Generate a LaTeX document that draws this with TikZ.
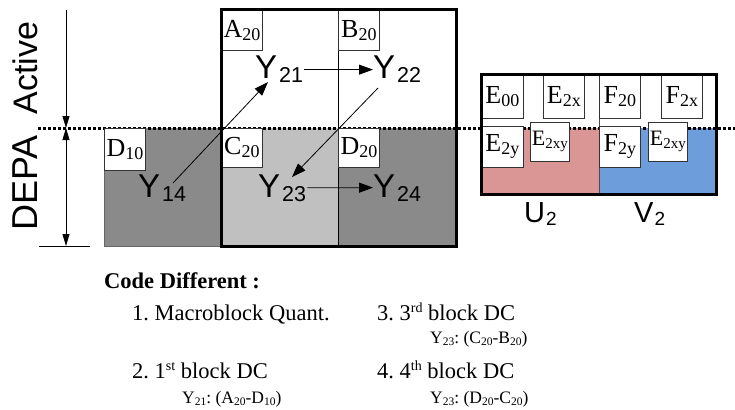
\documentclass[tikz,border=0pt]{standalone}
\usepackage{fontspec}
\setmainfont{Liberation Serif}
\newfontfamily\arialf{Liberation Sans}
\usetikzlibrary{arrows.meta}
\frenchspacing
\definecolor{dkgray}{HTML}{8A8A8A}
\definecolor{ltgray}{HTML}{C0C0C0}
\definecolor{upink}{HTML}{D99694}
\definecolor{vblue}{HTML}{6E9DDB}
\newcommand{\fsz}[1]{\fontsize{#1}{#1}\selectfont}
\newcommand{\bigY}[1]{{\arialf\fsz{33}Y\kern2pt\raisebox{-4pt}{\fsz{21.5}#1}}}
\newcommand{\labt}[2]{{\fsz{26}#1\raisebox{-3pt}{\fsz{18}#2}}}
\newcommand{\labsm}[2]{{\fsz{22}#1\raisebox{-3pt}{\fsz{15}#2}}}
\newcommand{\smy}[2]{#1\raisebox{-2pt}{\fsz{11.5}#2}}
\newcommand{\supx}[1]{\raisebox{8pt}{\fsz{14}#1}}
\tikzset{
  lbox/.style={draw=black!80, line width=0.8pt, fill=white, inner sep=0pt, anchor=north west},
  ytxt/.style={inner sep=0pt, anchor=base west},
  yarr/.style={-{Triangle[length=14pt,width=10pt]}, line width=0.8pt},
  darr/.style={-{Triangle[length=12pt,width=7pt]}, line width=0.8pt},
  ddarr/.style={{Triangle[length=12pt,width=7pt]}-{Triangle[length=12pt,width=7pt]}, line width=0.8pt},
  btxt/.style={inner sep=0pt, anchor=base west, font=\fsz{22.5}},
  stxt/.style={inner sep=0pt, anchor=base west, font=\fsz{17.5}},
  dotline/.style={line width=3pt, dash pattern=on 3pt off 2pt}
}
\begin{document}
\begin{tikzpicture}[x=1pt,y=-1pt]
\useasboundingbox (0,0) rectangle (735,409);
% fills
\fill[dkgray] (104,128) rectangle (221,246);
\draw[black!60, line width=0.6pt] (104,128) -- (104,246) -- (221,246);
\fill[ltgray] (221,128) rectangle (338,246);
\fill[dkgray] (338,128) rectangle (456,246);
\draw[line width=0.8pt] (338,10) -- (338,246);
\fill[upink] (481,128) rectangle (599,194);
\fill[vblue] (599,128) rectangle (716,194);
\draw[line width=0.8pt, black!70] (599,75) -- (599,194);
% dotted level line
\draw[dotline] (38,128) -- (735,128);
% label boxes
\node[lbox, minimum width=41pt, minimum height=40pt] (a20) at (221,10) {\labt{A}{20}};
\node[lbox, minimum width=41pt, minimum height=40pt] (b20) at (338,10) {\labt{B}{20}};
\node[lbox, minimum width=41pt, minimum height=39pt] (c20) at (221,128) {\labt{C}{20}};
\node[lbox, minimum width=41pt, minimum height=39pt] (d20) at (338,128) {\labt{D}{20}};
\node[lbox, minimum width=41pt, minimum height=42pt] (d10) at (104,128) {\labt{D}{10}};
\node[lbox, minimum width=42pt, minimum height=43pt] (e00) at (481,75) {\labt{E}{00}};
\node[lbox, minimum width=41pt, minimum height=43pt] (e2x) at (543,75) {\labt{E}{2x}};
\node[lbox, minimum width=41pt, minimum height=43pt] (f20) at (599,75) {\labt{F}{20}};
\node[lbox, minimum width=41pt, minimum height=43pt] (f2x) at (661,75) {\labt{F}{2x}};
\node[lbox, minimum width=42pt, minimum height=41pt] (e2y) at (481,126) {\labt{E}{2y}};
\node[lbox, minimum width=39pt, minimum height=39pt] (e2xy) at (530,122) {\labsm{E}{2xy}};
\node[lbox, minimum width=41pt, minimum height=41pt] (f2y) at (599,126) {\labt{F}{2y}};
\node[lbox, minimum width=39pt, minimum height=39pt] (e2xyb) at (648,122) {\labsm{E}{2xy}};
% thick outlines
\draw[line width=3pt] (221,10) rectangle (456,246);
\draw[line width=3pt] (481,75) rectangle (716,194);
% Y texts
\node[ytxt] (y21) at (255,79) {\bigY{21}};
\node[ytxt] (y22) at (373,79) {\bigY{22}};
\node[ytxt] (y14) at (138,197) {\bigY{14}};
\node[ytxt] (y23) at (258,197) {\bigY{23}};
\node[ytxt] (y24) at (373,197) {\bigY{24}};
% arrows between Y
\draw[yarr] ([xshift=1pt]y21.east) -- (y22.west);
\draw[yarr] ([xshift=1pt]y23.east) -- (y24.west);
\coordinate (s14) at (173,183);
\coordinate (e21) at (268,82);
\coordinate (s22) at (378,88);
\coordinate (e23) at (292,177);
\draw[yarr] (s14) -- (e21);
\draw[yarr] (s22) -- (e23);
% side dimension arrows
\coordinate (t1) at (66,10);
\coordinate (m1) at (66,128);
\coordinate (b1) at (66,246);
\coordinate (tk1) at (39,246);
\coordinate (tk2) at (90,246);
\draw[darr] (t1) -- (m1);
\draw[ddarr] (m1) -- (b1);
\draw[line width=0.8pt] (tk1) -- (tk2);
\node[rotate=90, anchor=base, inner sep=0pt, font=\arialf\fsz{34}] (act) at (37,68) {Active};
\node[rotate=90, anchor=base, inner sep=0pt, font=\arialf\fsz{36}] (depa) at (37,183) {DEPA};
% U2 V2
\node[ytxt, font=\arialf\fsz{29}] (u2) at (524,222) {U\kern1pt\raisebox{-3pt}{\fsz{19}2}};
\node[ytxt, font=\arialf\fsz{29}] (v2) at (634,222) {V\kern1pt\raisebox{-3pt}{\fsz{19}2}};
% bottom text
\node[btxt, font=\bfseries\fsz{22.5}] (cd) at (104,288) {Code Different :};
\node[btxt] (i1) at (132,320) {1. Macroblock Quant.};
\node[btxt] (i3) at (377,320) {3. 3\supx{rd} block DC};
\node[stxt] (n3) at (430,343) {\smy{Y}{23}: (\smy{C}{20}-\smy{B}{20})};
\node[btxt] (i2) at (132,378) {2. 1\supx{st} block DC};
\node[btxt] (i4) at (377,378) {4. 4\supx{th} block DC};
\node[stxt] (n2) at (182,403) {\smy{Y}{21}: (\smy{A}{20}-\smy{D}{10})};
\node[stxt] (n4) at (430,403) {\smy{Y}{23}: (\smy{D}{20}-\smy{C}{20})};
\end{tikzpicture}
\end{document}
